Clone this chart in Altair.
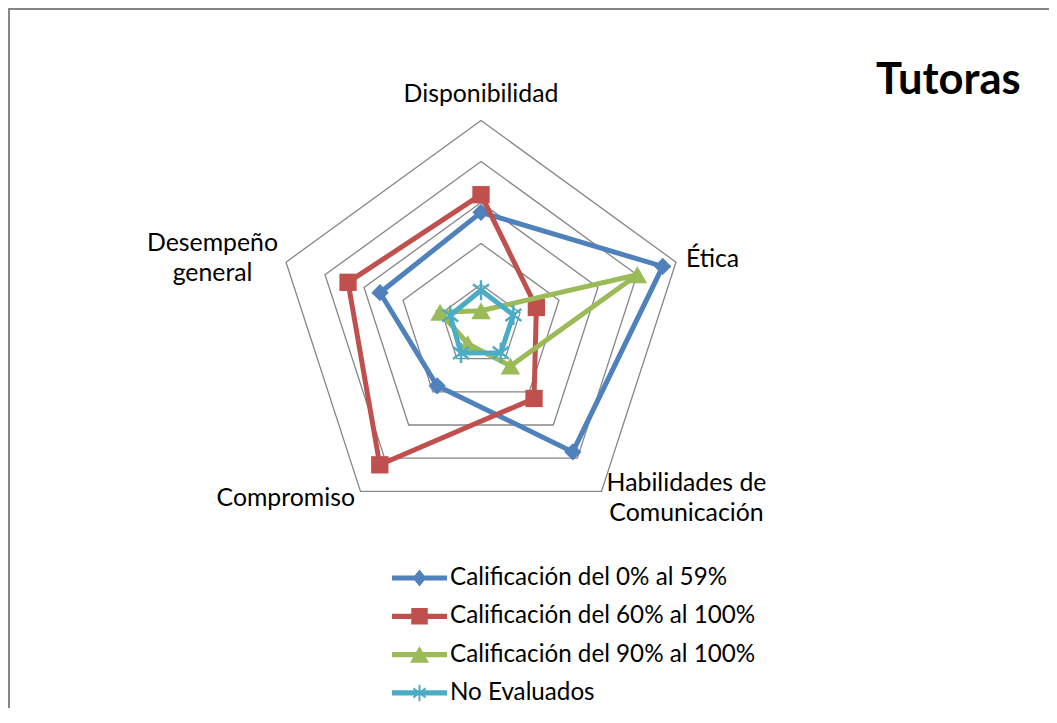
import altair as alt
import pandas as pd

# ---------------- data ----------------
categories = ["Disponibilidad", "Ética", "Habilidades de Comunicación", "Compromiso", "Desempeño general"]
series_names = ["Calificación del 0% al 59%", "Calificación del 60% al 100%",
                "Calificación del 90% al 100%", "No Evaluados"]
vals_0_59 = [27.6, 46.6, 38.1, 18.2, 25.9]
vals_60_100 = [31.9, 14.2, 22.0, 42.0, 34.1]
vals_90_100 = [3.6, 40.1, 12.2, 5.5, 10.5]
vals_no_eval = [8.6, 8.3, 8.2, 8.3, 7.9]
grid_levels = [10, 20, 30, 40, 50]
title_text = "Tutoras"

colors = ["#4F81BD", "#C0504D", "#9BBB59", "#4BACC6"]
all_vals = [vals_0_59, vals_60_100, vals_90_100, vals_no_eval]

# ---------------- layout ----------------
W, H = 1041, 700
CX, CY = 473.0, 317.5          # centre of the radar in svg px
K = 205.0 / 50.0                # px per unit
FONT = "Lato"
FS_LAB = 24.8
FS_LEG = 24.2
N = len(categories)

xscale = alt.Scale(domain=[-CX / K, (W - CX) / K], nice=False, zero=False)
yscale = alt.Scale(domain=[-(H - CY) / K, CY / K], nice=False, zero=False)

# ---------------- tables ----------------
rows = []
for s, vals in zip(series_names, all_vals):
    for i in range(N + 1):
        rows.append({"series": s, "idx": i, "category": categories[i % N], "r": vals[i % N]})
df = pd.DataFrame(rows)

grid_rows = []
for lv in grid_levels:
    for i in range(N + 1):
        grid_rows.append({"level": lv, "idx": i, "r": lv})
gdf = pd.DataFrame(grid_rows)

wrap = {"Habilidades de Comunicación": "Habilidades de\nComunicación",
        "Desempeño general": "Desempeño\ngeneral"}
ldf = pd.DataFrame({"category": categories, "idx": list(range(N)),
                    "r": [max(grid_levels)] * N,
                    "label": [wrap.get(c, c) for c in categories]})


def polar(ch):
    return ch.transform_calculate(
        ang=f"datum.idx * 2 * PI / {N}"
    ).transform_calculate(
        px="datum.r * sin(datum.ang)", py="datum.r * cos(datum.ang)"
    )


X = alt.X("px:Q", scale=xscale, axis=None)
Y = alt.Y("py:Q", scale=yscale, axis=None)

layers = []

# grid pentagons
layers.append(polar(alt.Chart(gdf)).mark_line(color="#868686", strokeWidth=1.3).encode(
    x=X, y=Y, detail="level:N", order="idx:Q"))

# series
point_shapes = ["diamond", "square", "triangle-up",
                "M0,-1L0,1M-0.8,-0.6L0.8,0.6M-0.8,0.6L0.8,-0.6"]
point_sizes = [300, 300, 380, 400]
for s, col, shp, sz in zip(series_names, colors, point_shapes, point_sizes):
    base = polar(alt.Chart(df)).transform_filter(alt.datum.series == s)
    layers.append(base.mark_line(color=col, strokeWidth=5).encode(x=X, y=Y, order="idx:Q"))
    if shp.startswith("M"):
        pm = base.transform_filter(alt.datum.idx < N).mark_point(
            shape=shp, size=sz, filled=False, stroke=col, strokeWidth=2.4, opacity=1)
    else:
        pm = base.transform_filter(alt.datum.idx < N).mark_point(
            shape=shp, size=sz, filled=True, color=col, opacity=1)
    layers.append(pm.encode(x=X, y=Y))

# axis labels
label_style = {
    "Disponibilidad": ("center", 0, -18.5),
    "Ética": ("left", 10, 4.5),
    "Habilidades de Comunicación": ("center", 85, 0),
    "Compromiso": ("right", -5.5, 15),
    "Desempeño general": ("center", -73.5, -10.7),
}
for c in categories:
    al, dx, dy = label_style[c]
    layers.append(polar(alt.Chart(ldf)).transform_filter(alt.datum.category == c).mark_text(
        align=al, baseline="alphabetic", dx=dx, dy=dy, font=FONT, fontSize=FS_LAB,
        color="black", lineBreak="\n", lineHeight=30).encode(x=X, y=Y, text="label:N"))


# legend (symbols: line + marker as one path; unit = 8 px)
S = 27.5 / 8.0


def rect(x0, y0, x1, y1):
    return f"M{x0*S:.4f},{y0*S:.4f}L{x1*S:.4f},{y0*S:.4f}L{x1*S:.4f},{y1*S:.4f}L{x0*S:.4f},{y1*S:.4f}Z"


def poly(pts):
    return "M" + "L".join(f"{x*S:.4f},{y*S:.4f}" for x, y in pts) + "Z"


line_p = rect(-1, -0.095, 1, 0.095)
leg_diamond = line_p + poly([(0, -0.31), (0.25, 0), (0, 0.31), (-0.25, 0)])
leg_square = line_p + rect(-0.3, -0.3, 0.3, 0.3)
leg_tri = line_p + poly([(0, -0.3), (0.345, 0.3), (-0.345, 0.3)])
a, w = 0.28, 0.035
leg_star = (line_p + rect(-w, -0.3, w, 0.3)
            + poly([(-0.8*a+0.6*w, -0.6*a-0.8*w), (0.8*a+0.6*w, 0.6*a-0.8*w),
                    (0.8*a-0.6*w, 0.6*a+0.8*w), (-0.8*a-0.6*w, -0.6*a+0.8*w)])
            + poly([(0.8*a+0.6*w, -0.6*a+0.8*w), (-0.8*a+0.6*w, 0.6*a+0.8*w),
                    (-0.8*a-0.6*w, 0.6*a-0.8*w), (0.8*a-0.6*w, -0.6*a-0.8*w)]))
legend_paths = [leg_diamond, leg_square, leg_tri, leg_star]

# entry size = max(sqrt(256), font) ; symbol centre = size/2 + symbolOffset
ent = max(16, FS_LEG)
sym_off = 27.5 - ent / 2
leg = alt.Legend(title=None, orient="none", legendX=384, legendY=578 - 8 - ent / 2,
                 direction="vertical",
                 symbolSize=256, symbolStrokeWidth=0, symbolOffset=sym_off,
                 labelFont=FONT, labelFontSize=FS_LEG,
                 labelColor="black", labelOffset=58 - ent - sym_off, rowPadding=37.5 - ent,
                 padding=0, labelLimit=600)
layers.append(polar(alt.Chart(df)).transform_filter("false").mark_point(
    filled=True, opacity=1, size=256).encode(
    x=X, y=Y,
    color=alt.Color("series:N", scale=alt.Scale(domain=series_names, range=colors), legend=leg),
    shape=alt.Shape("series:N", scale=alt.Scale(domain=series_names, range=legend_paths), legend=leg)))

# title
layers.append(alt.Chart(pd.DataFrame({"t": [title_text]})).mark_text(
    font=FONT, fontSize=43.5, fontWeight="bold", color="black", align="center",
    baseline="alphabetic").encode(text="t:N", x=alt.value(940.3), y=alt.value(86)))

# frame (top and left edges)
frame = alt.Chart(pd.DataFrame({"d": [0]}))
layers.append(frame.mark_rule(color="#868686", strokeWidth=2).encode(
    x=alt.value(1), y=alt.value(0), y2=alt.value(H)))
layers.append(frame.mark_rule(color="#868686", strokeWidth=2).encode(
    x=alt.value(0), x2=alt.value(W), y=alt.value(1)))

chart = alt.layer(*layers).properties(
    width=W, height=H, padding=0, autosize=alt.AutoSizeParams(type="none")
).configure_view(stroke=None).configure(background="white")

chart.save("out.html", embed_options={"renderer": "svg", "actions": False})
